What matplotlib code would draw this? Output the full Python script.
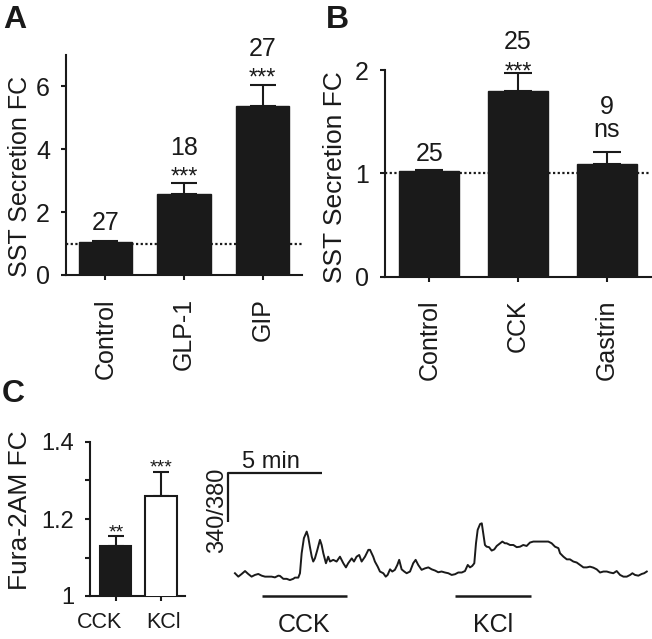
import matplotlib
matplotlib.use("Agg")
import matplotlib.pyplot as plt
from matplotlib.ticker import FixedLocator

plt.rcParams['font.family'] = ['Liberation Sans', 'DejaVu Sans']

INK = "#1a1a1a"

# ---------------- Panel A ----------------
a_categories = ["Control", "GLP-1", "GIP"]
a_means = [1.05, 2.58, 5.38]
a_errors = [0.02, 0.34, 0.67]
a_n = ["27", "18", "27"]
a_sig = ["", "***", "***"]
a_yticks = [0, 2, 4, 6]
a_ref = 1.0

# ---------------- Panel B ----------------
b_categories = ["Control", "CCK", "Gastrin"]
b_means = [1.02, 1.80, 1.09]
b_errors = [0.01, 0.17, 0.12]
b_n = ["25", "25", "9"]
b_sig = ["", "***", "ns"]
b_yticks = [0, 1, 2]
b_ref = 1.0

# ---------------- Panel C (bars) ----------------
c_categories = ["CCK", "KCl"]
c_means = [1.13, 1.26]
c_errors = [0.025, 0.063]
c_sig = ["**", "***"]
c_colors = [INK, "white"]
c_yticks = [1.0, 1.2, 1.4]
c_yticklabels = ["1", "1.2", "1.4"]
c_minor = [1.1, 1.3]

# ---------------- Panel C (trace) ----------------
trace_time = [0.00, 0.18, 0.36, 0.54, 0.71, 0.89, 1.07, 1.25, 1.43, 1.61,
              1.78, 1.96, 2.14, 2.32, 2.41, 2.59, 2.77, 2.94, 3.12, 3.21,
              3.39, 3.48, 3.57, 3.69, 3.84, 3.92, 4.01, 4.11, 4.19, 4.28,
              4.41, 4.55, 4.64, 4.73, 4.87, 4.99, 5.09, 5.26, 5.44, 5.62,
              5.80, 5.94, 6.06, 6.25, 6.37, 6.51, 6.65, 6.78, 6.96, 7.14,
              7.23, 7.40, 7.49, 7.64, 7.76, 7.94, 8.07, 8.17, 8.30, 8.42,
              8.56, 8.69, 8.79, 8.92, 9.06, 9.19, 9.37, 9.54, 9.67, 9.81,
              9.99, 10.17, 10.35, 10.53, 10.71, 10.88, 11.06, 11.24, 11.42, 11.60,
              11.78, 11.95, 12.14, 12.31, 12.46, 12.58, 12.70, 12.81, 12.90, 12.99,
              13.12, 13.21, 13.29, 13.38, 13.47, 13.60, 13.74, 13.88, 14.01, 14.19,
              14.31, 14.45,
              14.54, 14.72, 14.90, 15.08, 15.26, 15.43, 15.61, 15.79, 15.97, 16.15,
              16.33, 16.50, 16.77, 16.95, 17.13, 17.31, 17.40, 17.58, 17.76, 17.93,
              18.11, 18.29, 18.47, 18.65, 18.83, 19.00, 19.18, 19.36, 19.54, 19.72,
              19.90, 20.07, 20.25, 20.43, 20.61, 20.79, 20.97, 21.15, 21.27, 21.41,
              21.59, 21.77, 21.90, 22.04]
trace_ratio = [1.007, 0.993, 1.004, 1.016, 1.004, 0.993, 1.000, 1.004, 0.997, 0.993,
               0.993, 0.993, 0.990, 0.997, 0.996, 0.984, 0.984, 0.979, 0.984, 0.989,
               0.989, 1.007, 1.089, 1.151, 1.178, 1.157, 1.116, 1.075, 1.055, 1.068,
               1.103, 1.144, 1.123, 1.089, 1.048, 1.075, 1.055, 1.062, 1.055, 1.075,
               1.048, 1.031, 1.048, 1.068, 1.055, 1.075, 1.082, 1.055, 1.075, 1.103,
               1.103, 1.075, 1.055, 1.034, 1.014, 1.007, 0.993, 1.000, 1.023, 1.014,
               1.021, 1.041, 1.062, 1.023, 1.014, 1.007, 1.014, 1.048, 1.062, 1.041,
               1.021, 1.027, 1.031, 1.023, 1.018, 1.011, 1.014, 1.010, 1.007, 1.000,
               1.003, 1.010, 1.010, 1.016, 1.041, 1.031, 1.037, 1.048, 1.130, 1.185,
               1.209, 1.212, 1.171, 1.123, 1.116, 1.114, 1.100, 1.105, 1.119, 1.130,
               1.137, 1.130,
               1.130, 1.123, 1.123, 1.114, 1.116, 1.123, 1.119, 1.133, 1.137, 1.137,
               1.137, 1.137, 1.137, 1.130, 1.116, 1.110, 1.089, 1.075, 1.064, 1.064,
               1.055, 1.051, 1.041, 1.031, 1.031, 1.034, 1.030, 1.023, 1.010, 1.014,
               1.014, 1.010, 1.007, 1.016, 1.000, 0.993, 0.993, 1.000, 1.007, 1.000,
               0.997, 1.004, 1.007, 1.014]
stim_labels = ["CCK", "KCl"]
stim_periods = [(1.43, 5.98), (11.78, 15.85)]
scale_minutes = 5
scale_ratio = 0.2

# ---------------------------------------------------------------
W, H = 652, 639
fig = plt.figure(figsize=(W / 100, H / 100), dpi=100)


def px_axes(left, top, right, bottom):
    return fig.add_axes([left / W, 1 - bottom / H, (right - left) / W, (bottom - top) / H])


def style_axes(ax, fs=18):
    for s in ("top", "right"):
        ax.spines[s].set_visible(False)
    for s in ("left", "bottom"):
        ax.spines[s].set_linewidth(1.5)
        ax.spines[s].set_color(INK)
    ax.tick_params(axis="both", which="both", direction="out", length=3.6,
                   width=1.5, color=INK, labelsize=fs, labelcolor=INK)
    ax.tick_params(axis="y", pad=8)
    ax.set_facecolor("none")


def bar_panel(ax, cats, means, errs, ns, sigs, yticks, ylim, ref, capsize,
              star_off, n_off_star, n_off_plain, sig_off_ns, n_off_ns):
    x = list(range(len(cats)))
    ax.bar(x, means, width=0.68, color=INK, edgecolor=INK, zorder=3)
    ax.errorbar(x, means, yerr=[[0] * len(errs), errs], fmt="none", ecolor=INK,
                elinewidth=1.5, capsize=capsize, capthick=1.5, zorder=2)
    ax.axhline(ref, color=INK, lw=1.6, ls=(0, (1, 1.1)), zorder=4)
    ax.set_xlim(-0.5, len(cats) - 0.5)
    ax.set_ylim(*ylim)
    ax.set_yticks(yticks)
    ax.set_xticks(x)
    ax.set_xticklabels(cats, rotation=90, va="top", ha="center")
    ax.tick_params(axis="x", pad=13)
    for i, (m, e, n, s) in enumerate(zip(means, errs, ns, sigs)):
        top = m + e
        if s == "":
            ax.annotate(n, (i, top), xytext=(0, n_off_plain), textcoords="offset points",
                        ha="center", va="baseline", fontsize=18, color=INK,
                        annotation_clip=False)
        elif s == "ns":
            ax.annotate(s, (i, top), xytext=(0, sig_off_ns), textcoords="offset points",
                        ha="center", va="baseline", fontsize=18, color=INK,
                        annotation_clip=False)
            ax.annotate(n, (i, top), xytext=(0, n_off_ns), textcoords="offset points",
                        ha="center", va="baseline", fontsize=18, color=INK,
                        annotation_clip=False)
        else:
            ax.annotate(s, (i, top), xytext=(0, star_off), textcoords="offset points",
                        ha="center", va="baseline", fontsize=17, color=INK,
                        annotation_clip=False)
            ax.annotate(n, (i, top), xytext=(0, n_off_star), textcoords="offset points",
                        ha="center", va="baseline", fontsize=18, color=INK,
                        annotation_clip=False)


# Panel A
axA = px_axes(66, 55, 302, 275)
style_axes(axA)
bar_panel(axA, a_categories, a_means, a_errors, a_n, a_sig, a_yticks, (0, 7), a_ref,
          capsize=9.7, star_off=0, n_off_star=20.5, n_off_plain=8,
          sig_off_ns=11, n_off_ns=24)
axA.set_ylabel("SST Secretion FC", fontsize=18, color=INK)
axA.yaxis.set_label_coords(-0.142, 0.45)

# Panel B
axB = px_axes(385, 70, 651, 276.7)
style_axes(axB)
bar_panel(axB, b_categories, b_means, b_errors, b_n, b_sig, b_yticks, (0, 2), b_ref,
          capsize=10, star_off=-4, n_off_star=17, n_off_plain=6.5,
          sig_off_ns=10.5, n_off_ns=27)
axB.set_ylabel("SST Secretion FC", fontsize=19, color=INK)
axB.yaxis.set_label_coords(-0.143, 0.48)

# Panel C bars
axC = px_axes(90, 442, 185, 596)
style_axes(axC, fs=17)
xc = list(range(len(c_categories)))
axC.bar(xc, c_means, width=0.69, bottom=0, color=c_colors, edgecolor=INK,
        linewidth=1.5, zorder=3)
axC.errorbar(xc, c_means, yerr=[[0] * len(c_errors), c_errors], fmt="none",
             ecolor=INK, elinewidth=1.5, capsize=6, capthick=1.5, zorder=2)
axC.set_xlim(-0.57, 1.53)
axC.set_ylim(1.0, 1.4)
axC.set_yticks(c_yticks)
axC.set_yticklabels(c_yticklabels)
axC.yaxis.set_minor_locator(FixedLocator(c_minor))
axC.set_xticks(xc)
axC.set_xticklabels([""] * len(xc))
for i, (lab, dx) in enumerate(zip(c_categories, [-11.5, 2.0])):
    axC.annotate(lab, (i, 0), xycoords=("data", "axes fraction"),
                 xytext=(dx, -23), textcoords="offset points",
                 ha="center", va="baseline", fontsize=15.5, color=INK,
                 annotation_clip=False)
for i, (m, e, s) in enumerate(zip(c_means, c_errors, c_sig)):
    axC.annotate(s, (i, m + e), xytext=(0, -0.5), textcoords="offset points",
                 ha="center", va="baseline", fontsize=14, color=INK,
                 annotation_clip=False)
axC.set_ylabel("Fura-2AM FC", fontsize=19, color=INK)
axC.yaxis.set_label_coords(-0.61, 0.56)

# Panel C trace
axT = px_axes(220, 440, 652, 639)
axT.set_axis_off()
axT.set_xlim(-0.80, 22.32)
axT.set_ylim(0.737, 1.554)
axT.plot(trace_time, trace_ratio, color=INK, lw=1.4, solid_joinstyle="round")
# scale bar
sx = trace_time[0] - 0.36
sy = 1.219
axT.plot([sx, sx, sx + scale_minutes], [sy, sy + scale_ratio, sy + scale_ratio],
         color=INK, lw=1.6, solid_capstyle="butt", clip_on=False)
axT.text(sx + 0.72, sy + scale_ratio + 0.02, f"{scale_minutes} min", fontsize=17,
         ha="left", va="baseline", color=INK)
axT.text(sx - 0.58, sy + 0.048, "340/380", fontsize=17, rotation=90,
         ha="center", va="center", color=INK, clip_on=False)
for lab, (t0, t1) in zip(stim_labels, stim_periods):
    axT.plot([t0, t1], [0.914, 0.914], color=INK, lw=1.8, solid_capstyle="butt")
    axT.text((t0 + t1) / 2, 0.767, lab, fontsize=18, ha="center", va="baseline",
             color=INK)

# Panel letters
for lab, xp, yp in [("A", 3, 28), ("B", 326, 28), ("C", 2, 402)]:
    fig.text(xp / W, 1 - yp / H, lab, fontsize=23, fontweight="bold",
             ha="left", va="baseline", color=INK)

fig.savefig("out.png", dpi=100)
